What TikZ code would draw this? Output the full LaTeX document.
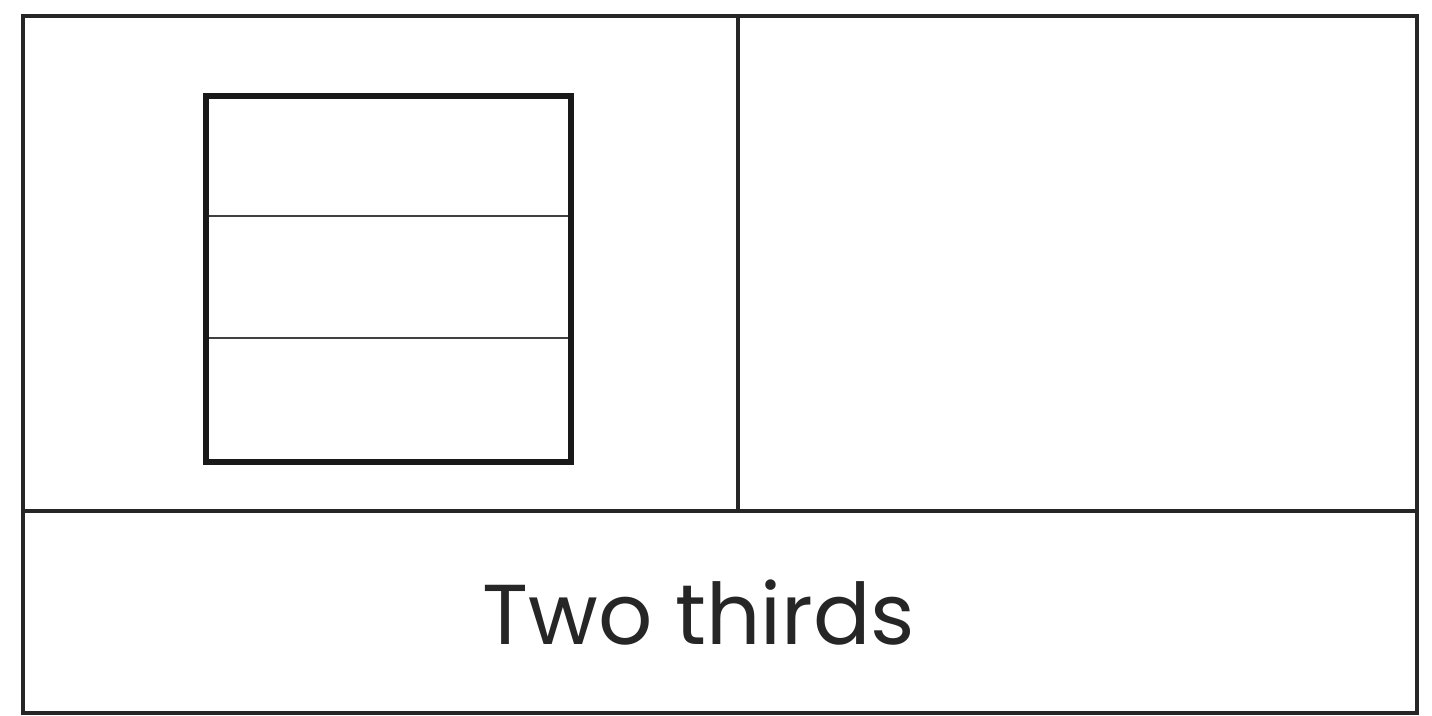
\documentclass[tikz,border=0pt]{standalone}
\usepackage{fontspec}
\setmainfont{Poppins}
\begin{document}
\begin{tikzpicture}[x=1pt,y=-1pt,
  frame/.style={draw=black!85,line width=3.5pt},
  sq/.style={draw=black!90,line width=5.5pt},
  thin/.style={draw=black!75,line width=1.8pt}]
\useasboundingbox (0,0) rectangle (1432,715);
\fill[white] (0,0) rectangle (1432,715);
\coordinate (tl) at (23,16);
\coordinate (br) at (1417,713);
\draw[frame] (tl) rectangle (br);
\coordinate (hl) at (23,511);
\coordinate (hr) at (1417,511);
\draw[frame] (hl) -- (hr);
\coordinate (vt) at (738,16);
\coordinate (vb) at (738,511);
\draw[frame] (vt) -- (vb);
\coordinate (s1) at (206,216);
\coordinate (s2) at (571,216);
\coordinate (s3) at (206,338);
\coordinate (s4) at (571,338);
\draw[thin] (s1) -- (s2);
\draw[thin] (s3) -- (s4);
\coordinate (sa) at (206,96);
\coordinate (sb) at (571,462);
\draw[sq] (sa) rectangle (sb);
\node[inner sep=0pt,text=black!85] (lbl) at (699,613) {\fontsize{85}{85}\selectfont Two thirds};
\end{tikzpicture}
\end{document}
